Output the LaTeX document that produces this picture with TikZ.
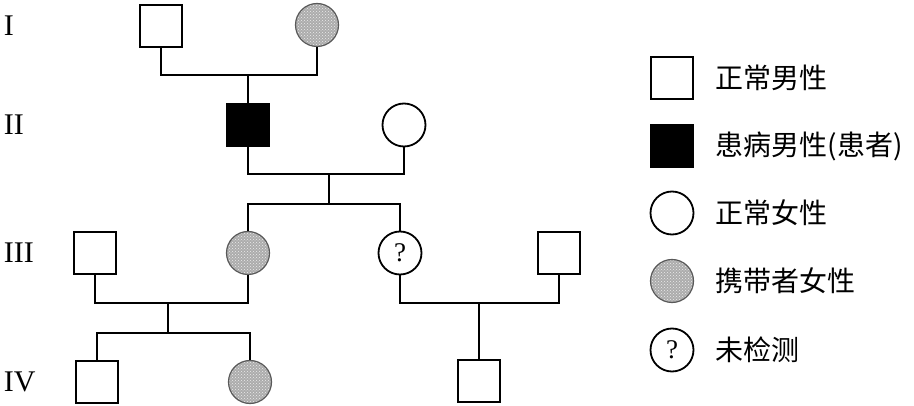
\documentclass[tikz,border=0pt]{standalone}
\usepackage{fontspec}
\setmainfont{Liberation Serif}
\newfontfamily\cjk{Noto Sans CJK SC}
\usetikzlibrary{patterns}
\begin{document}
\begin{tikzpicture}[x=1pt,y=-1pt, line width=1.8pt,
 male/.style={draw, rectangle, minimum size=42pt, inner sep=0pt},
 aff/.style={male, fill=black},
 female/.style={draw, circle, minimum size=43pt, inner sep=0pt},
 carrier/.style={female, draw=gray!70!black, line width=1.2pt, preaction={fill=gray!65}, pattern=crosshatch dots, pattern color=gray!15},
 unk/.style={female, font=\fontsize{27}{27}\selectfont},
 gen/.style={anchor=west, font=\fontsize{30}{32}\selectfont, inner sep=0pt},
 leg/.style={anchor=west, font=\fontsize{28}{30}\selectfont\cjk, inner sep=0pt}]
\useasboundingbox (0,0) rectangle (914,406);

% generation labels
\node[gen] (g1) at (3,26) {I};
\node[gen] (g2) at (3,125) {II};
\node[gen] (g3) at (3,253) {III};
\node[gen] (g4) at (3,382) {IV};

% individuals
\node[male] (i1) at (161,26) {};
\node[carrier] (i2) at (317,25) {};
\node[aff] (ii1) at (248,125) {};
\node[female] (ii2) at (404,125) {};
\node[male] (iii1) at (95,253) {};
\node[carrier] (iii2) at (248,253) {};
\node[unk] (iii3) at (400,253) {?};
\node[male] (iii4) at (559,253) {};
\node[male] (iv1) at (97,382) {};
\node[carrier] (iv2) at (250,382) {};
\node[male] (iv3) at (479,381) {};

% connectors
\coordinate (m1) at (248,75);
\draw (i1.south) |- (m1) -| (i2.south);
\draw (m1) -- (ii1.north);
\coordinate (m2) at (329,174);
\coordinate (s2) at (329,204);
\draw (ii1.south) |- (m2) -| (ii2.south);
\draw (m2) -- (s2);
\draw (iii2.north) |- (s2) -| (iii3.north);
\coordinate (m3) at (168,303);
\coordinate (s3) at (168,333);
\draw (iii1.south) |- (m3) -| (iii2.south);
\draw (m3) -- (s3);
\draw (iv1.north) |- (s3) -| (iv2.north);
\coordinate (m4) at (479,303);
\draw (iii3.south) |- (m4) -| (iii4.south);
\draw (m4) -- (iv3.north);

% legend
\node[male] (l1) at (672,78) {};
\node[leg] (t1) at (715,78) {正常男性};
\node[aff] (l2) at (672,146) {};
\node[leg] (t2) at (715,146) {患病男性(患者)};
\node[female] (l3) at (672,213) {};
\node[leg] (t3) at (715,213) {正常女性};
\node[carrier] (l4) at (672,281) {};
\node[leg] (t4) at (715,281) {携带者女性};
\node[unk] (l5) at (672,350) {?};
\node[leg] (t5) at (715,350) {未检测};
\end{tikzpicture}
\end{document}
